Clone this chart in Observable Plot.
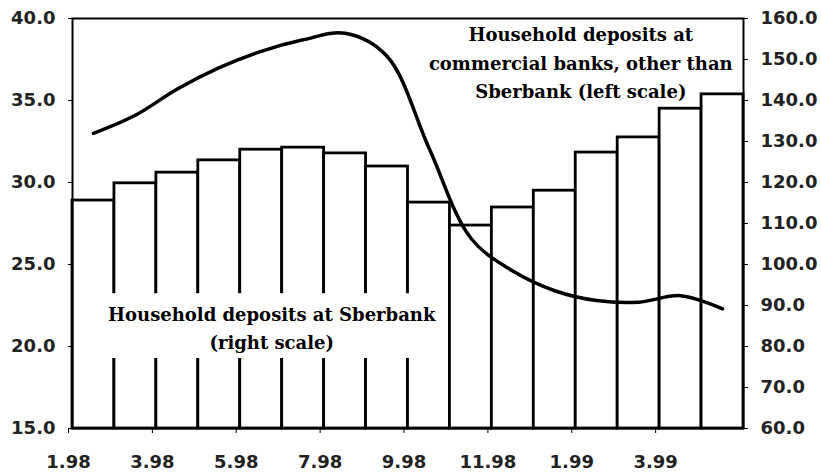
<!DOCTYPE html>
<html><head><meta charset="utf-8">
<script src="https://cdn.jsdelivr.net/npm/d3@7"></script>
<script src="https://cdn.jsdelivr.net/npm/@observablehq/plot@0.6"></script>
<style>body{margin:0;background:#fff}</style>
</head><body><div id="chart"></div>
<script>
const months = ["1.98","2.98","3.98","4.98","5.98","6.98","7.98","8.98","9.98","10.98","11.98","12.98","1.99","2.99","3.99","4.99"];
// Household deposits at Sberbank (right scale)
const sberbank = [115.6,119.8,122.4,125.4,128.0,128.5,127.1,123.9,115.1,109.5,113.9,118.0,127.3,131.0,138.0,141.5];
// Household deposits at commercial banks other than Sberbank (left scale)
const otherBanks = [33.0,34.1,35.7,37.0,38.0,38.7,39.1,37.7,32.1,26.6,24.6,23.4,22.8,22.7,23.1,22.3];
const xTickLabels = ["1.98","3.98","5.98","7.98","9.98","11.98","1.99","3.99"];
const leftTicks = [15,20,25,30,35,40];
const rightTicks = [60,70,80,90,100,110,120,130,140,150,160];
const sberLabel = "Household deposits at Sberbank\n(right scale)";
const otherLabel = "Household deposits at\ncommercial banks, other than\nSberbank (left scale)";

const toLeft = v => 15 + (v - 60) * 0.25;
const toRight = v => 60 + (v - 15) * 4;
const data = months.map((m, i) => ({i, month: m, sber: sberbank[i], other: otherBanks[i]}));
const xTicks = xTickLabels.map(l => months.indexOf(l));

// annotation anchor and its white backing box (in data units)
const sberAnchor = {x: 4.75, y: 21.22};
const sberBox = [{x1: sberAnchor.x - 4.08, x2: sberAnchor.x + 4.04, y1: sberAnchor.y - 1.95, y2: sberAnchor.y + 2.0}];

const axisFont = {fontSize: 18, fontWeight: "bold", fill: "#222"};

const chart = Plot.plot({
  width: 821, height: 474,
  marginLeft: 72, marginRight: 78, marginTop: 18, marginBottom: 46,
  x: {domain: [0, months.length]},
  y: {domain: [15, 40]},
  style: {fontFamily: "DejaVu Sans", background: "white", overflow: "visible"},
  marks: [
    Plot.rect(data, {x1: d => d.i, x2: d => d.i + 1, y1: 15, y2: d => toLeft(d.sber),
      fill: "white", stroke: "black", strokeWidth: 2.8}),
    Plot.rect(sberBox, {x1: "x1", x2: "x2", y1: "y1", y2: "y2", fill: "white"}),
    Plot.text([sberLabel], {x: sberAnchor.x, y: sberAnchor.y, text: d => d, fontFamily: "DejaVu Serif",
      fontWeight: "bold", fontSize: 18, lineHeight: 1.55, fill: "black"}),
    Plot.line(data, {x: d => d.i + 0.5, y: "other", curve: "catmull-rom",
      stroke: "black", strokeWidth: 3.5}),
    Plot.text([otherLabel], {x: 12.12, y: 37.44, text: d => d, fontFamily: "DejaVu Serif",
      fontWeight: "bold", fontSize: 18, lineHeight: 1.58, fill: "black"}),
    Plot.frame({stroke: "black", strokeWidth: 2}),
    Plot.axisY(leftTicks, {anchor: "left", tickSize: 4, tickPadding: 13, label: null,
      tickFormat: d => d.toFixed(1), ...axisFont}),
    Plot.axisY(rightTicks.map(toLeft), {anchor: "right", tickSize: 4, tickPadding: 13, label: null,
      tickFormat: d => toRight(d).toFixed(1), ...axisFont}),
    Plot.axisX(xTicks, {anchor: "bottom", tickSize: 5, tickPadding: 22, label: null, dx: -4,
      tickFormat: d => xTickLabels[xTicks.indexOf(d)], ...axisFont})
  ]
});
document.getElementById("chart").appendChild(chart);
</script>
</body></html>
